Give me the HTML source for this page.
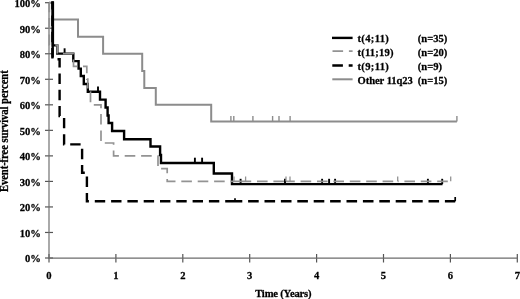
<!DOCTYPE html>
<html><head><meta charset="utf-8"><style>
html,body{margin:0;padding:0;background:#fff;width:520px;height:299px;overflow:hidden}
svg{display:block;filter:grayscale(1) blur(0.35px)}
</style></head><body>
<svg width="520" height="299" viewBox="0 0 520 299">
<rect width="520" height="299" fill="#fff"/>
<g stroke="#555" stroke-width="1.2" fill="none">
<path d="M45 258.00 H53"/>
<path d="M45 232.47 H53"/>
<path d="M45 206.94 H53"/>
<path d="M45 181.41 H53"/>
<path d="M45 155.88 H53"/>
<path d="M45 130.35 H53"/>
<path d="M45 104.82 H53"/>
<path d="M45 79.29 H53"/>
<path d="M45 53.76 H53"/>
<path d="M45 28.23 H53"/>
<path d="M45 2.70 H53"/>
<path d="M49.00 254 V262.5"/>
<path d="M115.90 254 V262.5"/>
<path d="M182.80 254 V262.5"/>
<path d="M249.70 254 V262.5"/>
<path d="M316.60 254 V262.5"/>
<path d="M383.50 254 V262.5"/>
<path d="M450.40 254 V262.5"/>
<path d="M517.30 254 V262.5"/>
</g>
<path d="M49 2.70 V258.1 H517.30" fill="none" stroke="#6c6c6c" stroke-width="1.15"/>
<g font-family="&quot;Liberation Serif&quot;, serif" font-weight="bold" font-size="10.6" fill="#000" stroke="#000" stroke-width="0.25">
<text transform="translate(40.9 262.30) scale(1 1.06)" text-anchor="end">0%</text>
<text transform="translate(40.9 236.77) scale(1 1.06)" text-anchor="end">10%</text>
<text transform="translate(40.9 211.24) scale(1 1.06)" text-anchor="end">20%</text>
<text transform="translate(40.9 185.71) scale(1 1.06)" text-anchor="end">30%</text>
<text transform="translate(40.9 160.18) scale(1 1.06)" text-anchor="end">40%</text>
<text transform="translate(40.9 134.65) scale(1 1.06)" text-anchor="end">50%</text>
<text transform="translate(40.9 109.12) scale(1 1.06)" text-anchor="end">60%</text>
<text transform="translate(40.9 83.59) scale(1 1.06)" text-anchor="end">70%</text>
<text transform="translate(40.9 58.06) scale(1 1.06)" text-anchor="end">80%</text>
<text transform="translate(40.9 32.53) scale(1 1.06)" text-anchor="end">90%</text>
<text transform="translate(40.9 7.00) scale(1 1.06)" text-anchor="end">100%</text>
<text transform="translate(49.00 278.6) scale(1 1.06)" text-anchor="middle">0</text>
<text transform="translate(115.90 278.6) scale(1 1.06)" text-anchor="middle">1</text>
<text transform="translate(182.80 278.6) scale(1 1.06)" text-anchor="middle">2</text>
<text transform="translate(249.70 278.6) scale(1 1.06)" text-anchor="middle">3</text>
<text transform="translate(316.60 278.6) scale(1 1.06)" text-anchor="middle">4</text>
<text transform="translate(383.50 278.6) scale(1 1.06)" text-anchor="middle">5</text>
<text transform="translate(450.40 278.6) scale(1 1.06)" text-anchor="middle">6</text>
<text transform="translate(517.30 278.6) scale(1 1.06)" text-anchor="middle">7</text>
<text transform="translate(255.2 297) scale(1 1.06)" textLength="56.3" lengthAdjust="spacing">Time (Years)</text>
<text transform="translate(8.2 131.2) rotate(-90) scale(1 1.08)" text-anchor="middle" textLength="121.8" lengthAdjust="spacing">Event-free survival percent</text>
<text transform="translate(357.5 42.00) scale(1 1.06)" textLength="31.4" lengthAdjust="spacing">t(4;11)</text>
<text transform="translate(417.8 42.00) scale(1 1.06)">(n=35)</text>
<text transform="translate(357.5 55.90) scale(1 1.06)" textLength="36.0" lengthAdjust="spacing">t(11;19)</text>
<text transform="translate(417.8 55.90) scale(1 1.06)">(n=20)</text>
<text transform="translate(357.5 69.80) scale(1 1.06)" textLength="31.4" lengthAdjust="spacing">t(9;11)</text>
<text transform="translate(417.8 69.80) scale(1 1.06)">(n=9)</text>
<text transform="translate(357.5 83.70) scale(1 1.06)" textLength="55.4" lengthAdjust="spacing">Other 11q23</text>
<text transform="translate(417.8 83.70) scale(1 1.06)">(n=15)</text>
</g>
<path d="M332 37.9 H352.6" stroke="#000" stroke-width="2.4"/>
<path d="M332.5 51.2 H352.6" stroke="#939393" stroke-width="1.7" stroke-dasharray="10.6 5.8"/>
<path d="M332.3 65.5 H352.6" stroke="#000" stroke-width="2.4" stroke-dasharray="10.6 5.8"/>
<path d="M332.3 79.3 H352.6" stroke="#8c8c8c" stroke-width="2.0"/>
<path d="M49 2.7 H52.6 V19.6 H78 V36.8 H103.1 V53.8 H142.2 V71 H144.3 V88 H155.8 V104.8 H211.2 V121.6 H456.9" fill="none" stroke="#8c8c8c" stroke-width="2.0"/>
<path d="M230.9 121.6 V116" stroke="#8c8c8c" stroke-width="1.4"/>
<path d="M233.8 121.6 V116" stroke="#8c8c8c" stroke-width="1.4"/>
<path d="M252.9 121.6 V116" stroke="#8c8c8c" stroke-width="1.4"/>
<path d="M272.6 121.6 V116" stroke="#8c8c8c" stroke-width="1.4"/>
<path d="M279.0 121.6 V116" stroke="#8c8c8c" stroke-width="1.4"/>
<path d="M290.1 121.6 V116" stroke="#8c8c8c" stroke-width="1.4"/>
<path d="M456.9 121.6 V116" stroke="#8c8c8c" stroke-width="1.4"/>
<path d="M51.4 2.7 H52.9 V45.4 H57.3 V53.6 H73.3 V61.1 H78.6 V68.6 H80.8 V76 H83.8 V84 H87.8 V91.8 H100 V99.6 H105.6 V107.5 H107.6 V115.5 H108.6 V123 H112.1 V131 H124.1 V139.3 H150.5 V146.5 H160.1 V155 H161 V163 H213.8 V173.5 H232 V184.1 H442.5" fill="none" stroke="#000" stroke-width="2.4"/>
<path d="M64.6 53.6 V48.300000000000004" stroke="#000" stroke-width="1.9"/>
<path d="M98 91.8 V86.5" stroke="#000" stroke-width="1.9"/>
<path d="M194.9 163 V157.7" stroke="#000" stroke-width="1.9"/>
<path d="M202.1 163 V157.7" stroke="#000" stroke-width="1.9"/>
<path d="M240.6 184.1 V178.79999999999998" stroke="#000" stroke-width="1.9"/>
<path d="M285 184.1 V178.79999999999998" stroke="#000" stroke-width="1.9"/>
<path d="M322.1 184.1 V178.79999999999998" stroke="#000" stroke-width="1.9"/>
<path d="M329.1 184.1 V178.79999999999998" stroke="#000" stroke-width="1.9"/>
<path d="M335.1 184.1 V178.79999999999998" stroke="#000" stroke-width="1.9"/>
<path d="M427.9 184.1 V178.79999999999998" stroke="#000" stroke-width="1.9"/>
<path d="M442.2 184.1 V178.79999999999998" stroke="#000" stroke-width="1.9"/>
<path d="M51.3 2.7 H52.7 V57.6" fill="none" stroke="#000" stroke-width="2.4"/>
<path d="M51.30 2.70 H52.40 V59.30 H59.60 V116.10 H64.10 V144.40 H82.10 V172.80 H86.90 V201.30 H235.00" fill="none" stroke="#000" stroke-width="2.4" stroke-dasharray="10.4 5.9" stroke-dashoffset="2.40"/>
<path d="M235.00 201.30 H455.20" fill="none" stroke="#000" stroke-width="2.4" stroke-dasharray="10.6 5.8" stroke-dashoffset="3.30"/>
<path d="M235 201.3 V198.3" stroke="#000" stroke-width="1.7"/>
<path d="M455.2 201.3 V197" stroke="#000" stroke-width="1.7"/>
<path d="M49.00 2.70 H49.30 V45.00 H57.30 V53.60 H73.50 V66.40 H86.80 V79.20 H87.80 V92.00 H90.50 V104.80 H101.00 V143.00 H113.60 V155.90 H158.00 V168.70 H167.20 V181.30 H245.60" fill="none" stroke="#939393" stroke-width="1.7" stroke-dasharray="10.6 5.8" stroke-dashoffset="0.70"/>
<path d="M241.30 181.30 H286.00" fill="none" stroke="#939393" stroke-width="1.7" stroke-dasharray="10.6 5.8" stroke-dashoffset="0.70"/>
<path d="M286.00 181.30 H397.70" fill="none" stroke="#939393" stroke-width="1.7" stroke-dasharray="10.6 5.8" stroke-dashoffset="1.80"/>
<path d="M397.70 181.30 H452.00" fill="none" stroke="#939393" stroke-width="1.7" stroke-dasharray="10.6 5.8" stroke-dashoffset="9.70"/>
<path d="M234 181.3 V176.5" stroke="#939393" stroke-width="1.3"/>
<path d="M245.6 181.3 V176.5" stroke="#939393" stroke-width="1.3"/>
<path d="M286 181.3 V176.5" stroke="#939393" stroke-width="1.3"/>
<path d="M290 181.3 V176.5" stroke="#939393" stroke-width="1.3"/>
<path d="M397.7 181.3 V176.5" stroke="#939393" stroke-width="1.3"/>
<path d="M450.7 181.3 V176.5" stroke="#939393" stroke-width="1.3"/>
</svg>
</body></html>
